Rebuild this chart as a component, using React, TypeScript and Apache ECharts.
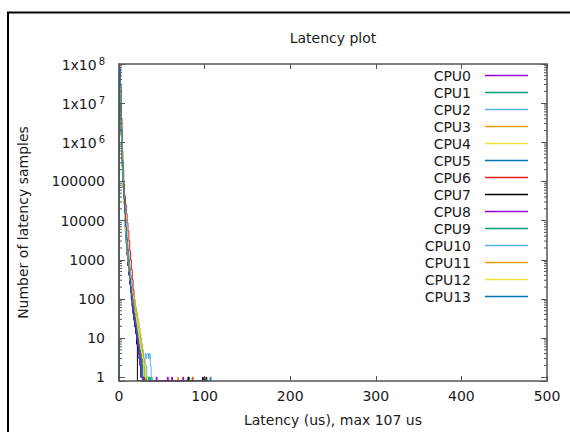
import React, { useEffect, useRef } from "react";
import * as echarts from "echarts";

const FONT = "DejaVu Sans";
const TEXT_COLOR = "#1a1a1a";
const BORDER = "#555555";

const cpuNames = ["CPU0","CPU1","CPU2","CPU3","CPU4","CPU5","CPU6","CPU7","CPU8","CPU9","CPU10","CPU11","CPU12","CPU13"];
const cpuColors = ["#9400d3","#009e73","#56b4e9","#e69f00","#f0e442","#0072b2","#e51e10","#000000","#9400d3","#009e73","#56b4e9","#e69f00","#f0e442","#0072b2"];

// histogram counts per latency bin (us), starting at 0 us
const cpu0 = [0, 6.1e7, 2.2e7, 1.6e6, 2.6e5, 7.5e4, 3.0e4, 1.3e4, 6500, 3400, 1900, 1100, 650, 400, 260, 170, 115, 80, 55, 38, 26, 18, 12, 8, 5, 4, 3, 2, 1, 1];
const cpu1 = [0, 5.7e7, 2.3e7, 1.9e6, 3.0e5, 8.8e4, 3.3e4, 1.4e4, 6300, 3000, 1500, 800, 450, 260, 160, 100, 66, 44, 30, 20, 13, 9, 6, 4, 3, 2, 1, 2, 1, 0, 1];
const cpu2 = [0, 8.8e7, 3.0e7, 2.6e6, 4.0e5, 1.2e5, 5.0e4, 2.2e4, 1.1e4, 5800, 3200, 1800, 1050, 640, 400, 260, 175, 120, 84, 60, 43, 31, 22, 16, 12, 9, 7, 5, 4, 3, 3, 2, 2, 1, 1];
const cpu3 = [0, 6.4e7, 2.1e7, 1.7e6, 2.8e5, 8.2e4, 3.3e4, 1.5e4, 7200, 3800, 2100, 1200, 720, 450, 290, 195, 135, 95, 68, 50, 36, 26, 19, 14, 10, 7, 5, 4, 3, 2, 1, 1];
const cpu4 = [6, 5.4e7, 1.9e7, 1.4e6, 2.3e5, 6.8e4, 2.6e4, 1.1e4, 5100, 2500, 1300, 720, 430, 320, 240, 185, 140, 110, 85, 62, 45, 33, 24, 17, 12, 9, 7, 5, 4, 3, 2, 1, 1, 0, 1];
const cpu5 = [0, 7.2e7, 2.5e7, 2.0e6, 3.2e5, 9.2e4, 3.5e4, 1.5e4, 6800, 3200, 1600, 850, 480, 280, 170, 108, 72, 48, 33, 22, 15, 10, 7, 5, 3, 2, 1, 1];
const cpu6 = [0, 4.6e7, 2.7e7, 4.1e6, 6.2e5, 2.1e5, 8.5e4, 4.3e4, 2.6e4, 1.5e4, 8800, 5400, 3100, 1700, 980, 560, 310, 170, 95, 52, 30, 17, 10, 6, 4, 2, 1, 1];
const cpu7 = [0, 6.0e7, 2.0e7, 1.5e6, 2.4e5, 7.0e4, 2.7e4, 1.15e4, 5300, 2600, 1300, 700, 400, 235, 148, 94, 62, 41, 28, 19, 13, 7];
const cpu8 = [0, 5.9e7, 2.1e7, 1.6e6, 2.5e5, 7.3e4, 2.8e4, 1.2e4, 5500, 2650, 1320, 710, 405, 238, 150, 96, 64, 42, 29, 20, 13, 9, 6, 4, 3, 2, 1, 1, 0, 1];
const cpu9 = [0, 6.3e7, 2.2e7, 1.7e6, 2.7e5, 7.8e4, 3.1e4, 1.4e4, 6800, 3500, 1900, 1050, 620, 380, 240, 160, 108, 75, 52, 37, 27, 19, 13, 9, 7, 5, 4, 3, 2, 2, 1, 1, 0, 1, 1, 0, 1];
const cpu10 = [0, 8.1e7, 2.8e7, 2.2e6, 3.4e5, 1.0e5, 3.9e4, 1.7e4, 8200, 4200, 2300, 1300, 780, 480, 310, 205, 140, 98, 70, 50, 36, 26, 19, 14, 10, 8, 6, 5, 4, 3, 3, 4, 3, 4, 4, 3, 4, 2, 1];
const cpu11 = [0, 6.6e7, 2.3e7, 1.8e6, 2.9e5, 8.5e4, 3.3e4, 1.4e4, 6500, 3100, 1600, 860, 490, 290, 220, 180, 150, 120, 100, 80, 60, 45, 32, 25, 18, 13, 10, 7, 5, 3, 2, 1];
const cpu12 = [9, 5.2e7, 1.8e7, 1.35e6, 2.2e5, 6.5e4, 2.5e4, 1.1e4, 5400, 2800, 1550, 900, 560, 360, 240, 165, 118, 85, 62, 46, 34, 25, 18, 13, 9, 7, 5, 4, 3, 2, 2, 1, 1, 1];
const cpu13 = [0, 7.5e7, 2.6e7, 2.1e6, 3.3e5, 9.6e4, 3.6e4, 1.55e4, 7000, 3400, 1800, 980, 570, 340, 215, 140, 95, 64, 44, 30, 21, 14, 10, 7, 5, 3, 2, 1];

// isolated outliers: [latency us, count]
const cpu0Outliers = [[44, 1], [62, 1]];
const cpu1Outliers = [[38, 1], [82, 1]];
const cpu3Outliers = [[69, 1]];
const cpu5Outliers = [[107, 1]];
const cpu6Outliers = [[86, 1]];
const cpu7Outliers = [[81, 1], [98, 1], [102, 1]];
const cpu8Outliers = [[57, 1], [75, 1]];

const cpuCounts = [cpu0, cpu1, cpu2, cpu3, cpu4, cpu5, cpu6, cpu7, cpu8, cpu9, cpu10, cpu11, cpu12, cpu13];
const cpuOutliers: number[][][] = [cpu0Outliers, cpu1Outliers, [], cpu3Outliers, [], cpu5Outliers, cpu6Outliers, cpu7Outliers, cpu8Outliers, [], [], [], [], []];

const X_TICKS = [0, 100, 200, 300, 400, 500];
const Y_MIN = 0.8;
const Y_MAX = 1e8;
const MINOR_MULT = [2, 3, 4, 5, 6, 7, 8, 9];
const DECADES = [1, 10, 100, 1000, 1e4, 1e5, 1e6, 1e7];

function buildSeriesData(counts: number[], outliers: number[][]) {
  const map = new Map<number, number>();
  counts.forEach((c, i) => map.set(i, c));
  outliers.forEach(([x, c]) => map.set(x, c));
  let last = 0;
  map.forEach((_, k) => { if (k > last) last = k; });
  const out: number[][] = [];
  for (let x = 0; x <= last + 1; x++) {
    const v = map.get(x) ?? 0;
    out.push([x, Math.max(v, Y_MIN)]);
  }
  return out;
}

function yLabel(v: number) {
  const l = Math.log10(v);
  const e = Math.round(l);
  if (Math.abs(l - e) > 1e-6) return "";
  if (e >= 6) return `{b|1x10}{s|${e}}`;
  return String(Math.round(Math.pow(10, e)));
}

export default function App() {
  const ref = useRef<HTMLDivElement>(null);
  useEffect(() => {
    if (!ref.current) return;
    const chart = echarts.init(ref.current, undefined, { renderer: "svg" });
    const minorData: number[][] = [];
    DECADES.forEach((d) => MINOR_MULT.forEach((m) => minorData.push([0, d * m])));

    const lineSeries = cpuNames.map((name, i) => ({
      name,
      type: "line",
      step: "middle",
      symbol: "none",
      showSymbol: false,
      data: buildSeriesData(cpuCounts[i], cpuOutliers[i]),
      lineStyle: { width: 1, color: cpuColors[i] },
      itemStyle: { color: cpuColors[i] },
      color: cpuColors[i],
      clip: true,
      silent: true,
      z: 2,
    }));

    const axisCommonX = {
      type: "value",
      min: X_TICKS[0],
      max: X_TICKS[X_TICKS.length - 1],
      interval: 100,
      splitLine: { show: false },
      axisLine: { show: true, onZero: false, lineStyle: { color: BORDER, width: 1.5 } },
      axisTick: { show: true, inside: true, length: 5, lineStyle: { color: BORDER } },
      z: 10,
    };
    const axisCommonY = {
      type: "log",
      logBase: 10,
      min: Y_MIN,
      max: Y_MAX,
      splitLine: { show: false },
      axisLine: { show: true, onZero: false, lineStyle: { color: BORDER, width: 1.5 } },
      axisTick: { show: true, inside: true, length: 6, lineStyle: { color: BORDER } },
      z: 10,
    };

    chart.setOption({
      animation: false,
      textStyle: { fontFamily: FONT },
      grid: { left: 119, right: 23, top: 64, bottom: 48, containLabel: false },
      graphic: [
        {
          type: "rect",
          shape: { x: 8, y: 12.5, width: 800, height: 800 },
          style: { fill: "none", stroke: "#000", lineWidth: 2 },
          silent: true,
        },
        {
          type: "text",
          x: 333,
          y: 38,
          style: { text: "Latency plot", fill: TEXT_COLOR, font: `14px "${FONT}"`, align: "center", verticalAlign: "middle" },
          silent: true,
        },
      ],
      legend: {
        orient: "vertical",
        align: "right",
        right: 42,
        top: 67,
        padding: 0,
        itemGap: 0,
        itemWidth: 43,
        itemHeight: 1.5,
        icon: "rect",
        selectedMode: false,
        data: cpuNames,
        textStyle: { fontFamily: FONT, fontSize: 14, color: TEXT_COLOR, lineHeight: 17, padding: [0, 9, 0, 0] },
      },
      xAxis: [
        {
          ...axisCommonX,
          position: "bottom",
          name: "Latency (us), max 107 us",
          nameLocation: "middle",
          nameGap: 32,
          nameTextStyle: { fontFamily: FONT, fontSize: 14, color: TEXT_COLOR },
          axisLabel: { fontFamily: FONT, fontSize: 14, color: TEXT_COLOR, margin: 8 },
        },
        {
          ...axisCommonX,
          position: "top",
          axisLabel: { show: false },
        },
      ],
      yAxis: [
        {
          ...axisCommonY,
          position: "left",
          name: "Number of latency samples",
          nameLocation: "middle",
          nameGap: 89,
          nameTextStyle: { fontFamily: FONT, fontSize: 14, color: TEXT_COLOR },
          axisLabel: {
            fontFamily: FONT,
            fontSize: 14,
            color: TEXT_COLOR,
            margin: 14,
            formatter: yLabel,
            rich: {
              b: { fontFamily: FONT, fontSize: 14, color: TEXT_COLOR, lineHeight: 16, verticalAlign: "bottom" },
              s: { fontFamily: FONT, fontSize: 10, color: TEXT_COLOR, lineHeight: 12, verticalAlign: "top", padding: [0, 0, 6, 2] },
            },
          },
        },
        {
          ...axisCommonY,
          position: "right",
          axisLabel: { show: false },
        },
      ],
      series: [
        ...lineSeries,
        {
          type: "custom",
          silent: true,
          clip: false,
          z: 11,
          data: minorData,
          renderItem: (params: any, api: any) => {
            const v = api.value(1);
            const p = api.coord([X_TICKS[0], v]);
            const q = api.coord([X_TICKS[X_TICKS.length - 1], v]);
            return {
              type: "group",
              children: [
                { type: "line", shape: { x1: p[0], y1: p[1], x2: p[0] + 3, y2: p[1] }, style: { stroke: BORDER, lineWidth: 1 } },
                { type: "line", shape: { x1: q[0] - 3, y1: q[1], x2: q[0], y2: q[1] }, style: { stroke: BORDER, lineWidth: 1 } },
              ],
            };
          },
        },
      ],
    });
    return () => chart.dispose();
  }, []);
  return <div ref={ref} style={{ position: "absolute", left: 0, top: 0, width: 570, height: 432 }} />;
}
